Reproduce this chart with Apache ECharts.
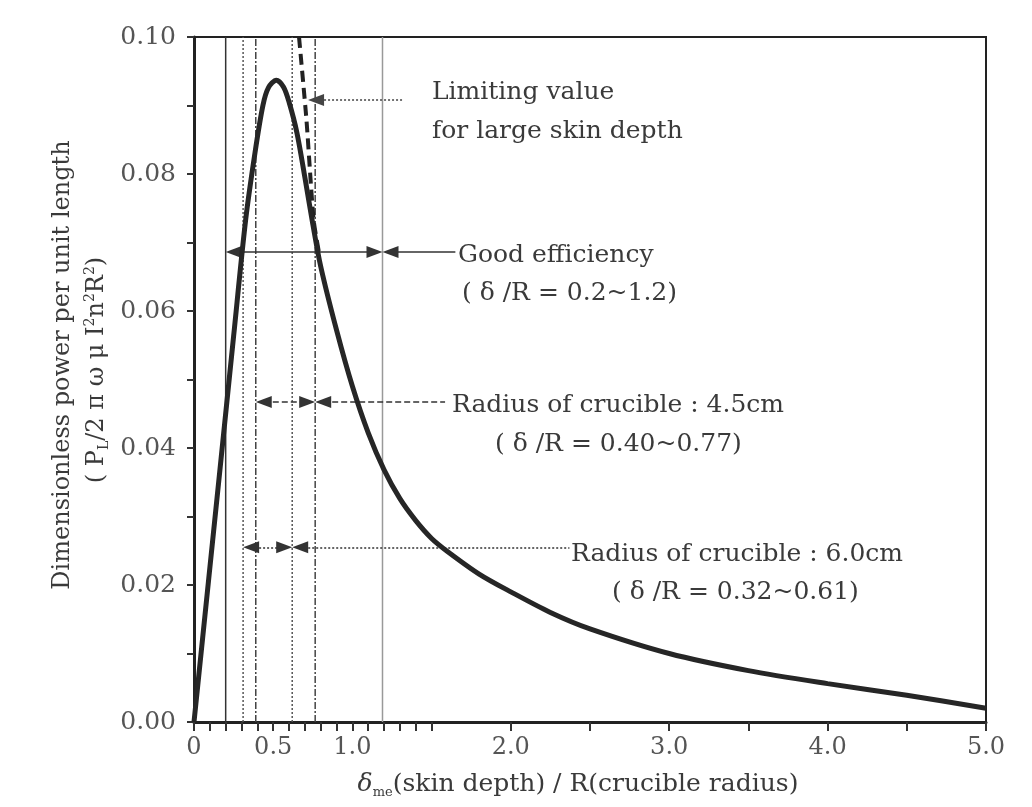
<!DOCTYPE html>
<html><head><meta charset="utf-8">
<script src="https://cdn.jsdelivr.net/npm/echarts@6/dist/echarts.min.js"></script>
<style>html,body{margin:0;padding:0;background:#fff}#c{width:1032px;height:807px}</style>
</head><body><div id="c"></div>
<script>
// main curve: dimensionless power vs skin depth ratio
const curveX = [0, 0.16, 0.25, 0.326, 0.385, 0.435, 0.47, 0.52, 0.565, 0.60, 0.65, 0.70, 0.75, 0.80, 0.90, 1.00, 1.10, 1.20, 1.30, 1.40, 1.50, 1.60, 1.80, 2.00, 2.25, 2.50, 3.00, 3.50, 4.00, 4.50, 5.00];
const curveY = [0, 0.036, 0.0563, 0.0733, 0.0831, 0.0900, 0.0926, 0.0937, 0.0927, 0.0905, 0.0860, 0.0795, 0.0727, 0.0665, 0.0572, 0.0490, 0.0422, 0.0368, 0.0326, 0.0294, 0.0268, 0.0249, 0.0216, 0.0190, 0.0160, 0.0136, 0.0100, 0.0075, 0.0056, 0.0039, 0.0020];
// limiting value for large skin depth (dashed)
const limitX = [0.663, 0.71, 0.755, 0.79];
const limitY = [0.1, 0.0879, 0.0733, 0.0684];
// ranges
const goodRange = [0.2, 1.19];
const r45Range = [0.39, 0.765];
const r60Range = [0.31, 0.62];
// arrow levels (y) : good, 4.5cm, 6.0cm, limiting
const arrowLevels = [0.0686, 0.0467, 0.0255, 0.0908];
// leader ends (x) : good, 4.5cm, 6.0cm, limiting
const leaderEnds = [1.65, 1.585, 2.37, 1.32];
const limitArrowTip = 0.72;
// ticks
const xTickValues = [0,0.1,0.2,0.3,0.4,0.5,0.6,0.7,0.8,0.9,1.0,1.1,1.2,1.3,1.4,1.5,2.0,2.5,3.0,3.5,4.0,4.5,5.0];
const xLabelValues = [0,0.5,1,2,3,4,5];
const yLabelValues = [0,0.02,0.04,0.06,0.08,0.1];

const FONT = '"DejaVu Serif", "Liberation Serif", serif';
const TXT = '#3a3a3a';
const ARW = [12,16];
// half arrow length (8px) expressed in x data units (plot width 792px for 5 units)
const HALF = 8 * 5 / 792;

function vline(x, color, type, width) {
  return {type:'line', data:[[x,0],[x,0.1]], symbol:'none', silent:true, animation:false,
    lineStyle:{color:color, type:type, width:width}, z:2};
}
function arrowPair(range, y, leaderEnd, style) {
  return {type:'line', data:[], silent:true, animation:false, symbol:'none',
    markLine:{silent:true, animation:false, label:{show:false},
      symbol:['triangle','triangle'], symbolSize:ARW,
      lineStyle:Object.assign({color:'#333', width:1.5}, style),
      data:[
        [{coord:[range[0] + HALF, y]}, {coord:[range[1] - HALF, y]}],
        [{coord:[range[1] + HALF, y], symbol:'triangle'}, {coord:[leaderEnd, y], symbol:'none'}]
      ]}};
}

const series = [
  vline(goodRange[0], '#333', 'solid', 1.5),
  vline(goodRange[1], '#999', 'solid', 1.5),
  vline(r60Range[0], '#555', [2,2], 1.5),
  vline(r60Range[1], '#555', [2,2], 1.5),
  vline(r45Range[0], '#444', [7,2,2,2], 1.5),
  vline(r45Range[1], '#444', [7,2,2,2], 1.5),
  {type:'line', data:curveX.map((x,i)=>[x,curveY[i]]), symbol:'none', smooth:0.3, animation:false,
    lineStyle:{color:'#262626', width:5}, z:5},
  {type:'line', data:limitX.map((x,i)=>[x,limitY[i]]), symbol:'none', smooth:0.2, animation:false,
    lineStyle:{color:'#222', width:4, type:[11,6]}, z:4},
  arrowPair(goodRange, arrowLevels[0], leaderEnds[0], {type:'solid'}),
  arrowPair(r45Range, arrowLevels[1], leaderEnds[1], {type:[6,3]}),
  arrowPair(r60Range, arrowLevels[2], leaderEnds[2], {type:[2,2]}),
  {type:'line', data:[], silent:true, animation:false, symbol:'none',
    markLine:{silent:true, animation:false, label:{show:false},
      symbol:['triangle','none'], symbolSize:ARW,
      lineStyle:{color:'#444', width:1.5, type:[2,2]},
      data:[[{coord:[limitArrowTip + HALF, arrowLevels[3]]},{coord:[leaderEnds[3], arrowLevels[3]]}]]}}
];

function t(x, y, text, size) {
  return {type:'text', x:x, y:y, silent:true,
    style:{text:text, font:(size||25)+'px '+FONT, fill:TXT, verticalAlign:'middle', align:'left'}};
}

const chart = echarts.init(document.getElementById('c'));
chart.setOption({
  backgroundColor:'#fff',
  animation:false,
  grid:{left:194, right:46, top:37, bottom:85, show:true, borderColor:'#222', borderWidth:2, backgroundColor:'transparent'},
  xAxis:{type:'value', min:0, max:5,
    axisLine:{show:true, onZero:false, lineStyle:{color:'#222', width:3}},
    axisTick:{show:true, customValues:xTickValues, length:9, lineStyle:{color:'#333', width:2}},
    axisLabel:{customValues:xLabelValues, formatter:v=> v===0 ? '0' : v.toFixed(1),
      fontFamily:FONT, fontSize:24, color:'#555', margin:14},
    splitLine:{show:false}},
  yAxis:{type:'value', min:0, max:0.1, interval:0.01,
    axisLine:{show:true, lineStyle:{color:'#222', width:3}},
    axisTick:{show:true, length:7, lineStyle:{color:'#333', width:2}},
    axisLabel:{customValues:yLabelValues, formatter:v=>v.toFixed(2),
      fontFamily:FONT, fontSize:25, color:'#555', margin:18},
    splitLine:{show:false}},
  series:series,
  graphic:[
    t(432, 92, 'Limiting value'),
    t(432, 131, 'for large skin depth'),
    t(458, 255, 'Good efficiency'),
    t(462, 293, '( δ /R = 0.2~1.2)'),
    t(452, 405, 'Radius of crucible : 4.5cm'),
    t(495, 444, '( δ /R = 0.40~0.77)'),
    t(571, 554, 'Radius of crucible : 6.0cm'),
    t(612, 592, '( δ /R = 0.32~0.61)'),
    {type:'text', x:63, y:365, rotation:Math.PI/2, silent:true,
      style:{text:'Dimensionless power per unit length', font:'24px '+FONT, fill:TXT, align:'center', verticalAlign:'middle'}},
    {type:'text', x:97, y:370, rotation:Math.PI/2, silent:true,
      style:{text:'{p|( P}{sub|L}{p|/2 π ω μ I}{sup|2}{p|n}{sup|2}{p|R}{sup|2}{p|)}', align:'center', verticalAlign:'middle',
        rich:{p:{font:'24px '+FONT, fill:TXT, verticalAlign:'middle', lineHeight:28},
              sub:{font:'14px '+FONT, fill:TXT, verticalAlign:'bottom', lineHeight:28},
              sup:{font:'14px '+FONT, fill:TXT, verticalAlign:'top', lineHeight:28}}}},
    {type:'text', x:578, y:784, silent:true,
      style:{text:'{d|δ}{sub|me}{p|(skin depth) / R(crucible radius)}', align:'center', verticalAlign:'middle',
        rich:{d:{font:'italic 25px '+FONT, fill:TXT, lineHeight:30, verticalAlign:'middle'},
              sub:{font:'13px '+FONT, fill:TXT, lineHeight:30, verticalAlign:'bottom'},
              p:{font:'25px '+FONT, fill:TXT, lineHeight:30, verticalAlign:'middle'}}}}
  ]
});
</script></body></html>
